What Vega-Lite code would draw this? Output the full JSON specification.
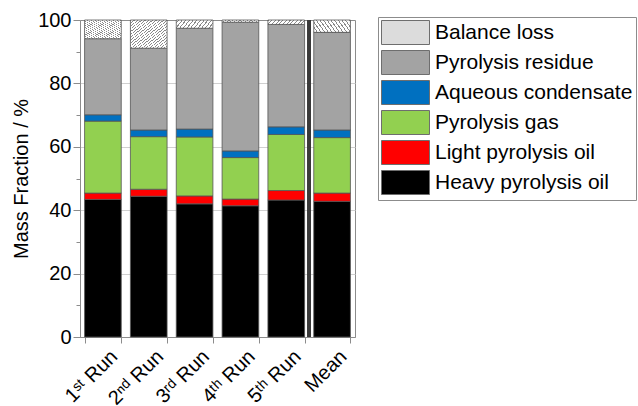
{
  "$schema": "https://vega.github.io/schema/vega-lite/v6.json",
  "autosize": "none",
  "width": 275,
  "height": 317,
  "padding": {"left": 80, "top": 20, "right": 283, "bottom": 69},
  "config": {
    "font": "Liberation Sans",
    "view": {"stroke": "#8c8c8c", "strokeWidth": 1},
    "axis": {"labelFont": "Liberation Sans", "titleFont": "Liberation Sans", "labelColor": "#000", "titleColor": "#000", "domainColor": "#8c8c8c", "tickColor": "#8c8c8c"}
  },
  "data": {
    "values": [
      {"run": "1ˢᵗ Run", "component": "Heavy pyrolysis oil", "k": 1, "value": 43.4},
      {"run": "1ˢᵗ Run", "component": "Light pyrolysis oil", "k": 2, "value": 2.0},
      {"run": "1ˢᵗ Run", "component": "Pyrolysis gas", "k": 3, "value": 22.7},
      {"run": "1ˢᵗ Run", "component": "Aqueous condensate", "k": 4, "value": 2.0},
      {"run": "1ˢᵗ Run", "component": "Pyrolysis residue", "k": 5, "value": 24.0},
      {"run": "1ˢᵗ Run", "component": "Balance loss", "k": 6, "value": 5.9},
      {"run": "2ⁿᵈ Run", "component": "Heavy pyrolysis oil", "k": 1, "value": 44.4},
      {"run": "2ⁿᵈ Run", "component": "Light pyrolysis oil", "k": 2, "value": 2.2},
      {"run": "2ⁿᵈ Run", "component": "Pyrolysis gas", "k": 3, "value": 16.6},
      {"run": "2ⁿᵈ Run", "component": "Aqueous condensate", "k": 4, "value": 2.1},
      {"run": "2ⁿᵈ Run", "component": "Pyrolysis residue", "k": 5, "value": 25.8},
      {"run": "2ⁿᵈ Run", "component": "Balance loss", "k": 6, "value": 8.9},
      {"run": "3ʳᵈ Run", "component": "Heavy pyrolysis oil", "k": 1, "value": 42.0},
      {"run": "3ʳᵈ Run", "component": "Light pyrolysis oil", "k": 2, "value": 2.5},
      {"run": "3ʳᵈ Run", "component": "Pyrolysis gas", "k": 3, "value": 18.6},
      {"run": "3ʳᵈ Run", "component": "Aqueous condensate", "k": 4, "value": 2.5},
      {"run": "3ʳᵈ Run", "component": "Pyrolysis residue", "k": 5, "value": 31.8},
      {"run": "3ʳᵈ Run", "component": "Balance loss", "k": 6, "value": 2.6},
      {"run": "4ᵗʰ Run", "component": "Heavy pyrolysis oil", "k": 1, "value": 41.4},
      {"run": "4ᵗʰ Run", "component": "Light pyrolysis oil", "k": 2, "value": 2.1},
      {"run": "4ᵗʰ Run", "component": "Pyrolysis gas", "k": 3, "value": 13.1},
      {"run": "4ᵗʰ Run", "component": "Aqueous condensate", "k": 4, "value": 2.1},
      {"run": "4ᵗʰ Run", "component": "Pyrolysis residue", "k": 5, "value": 40.6},
      {"run": "4ᵗʰ Run", "component": "Balance loss", "k": 6, "value": 0.7},
      {"run": "5ᵗʰ Run", "component": "Heavy pyrolysis oil", "k": 1, "value": 43.2},
      {"run": "5ᵗʰ Run", "component": "Light pyrolysis oil", "k": 2, "value": 3.0},
      {"run": "5ᵗʰ Run", "component": "Pyrolysis gas", "k": 3, "value": 17.7},
      {"run": "5ᵗʰ Run", "component": "Aqueous condensate", "k": 4, "value": 2.4},
      {"run": "5ᵗʰ Run", "component": "Pyrolysis residue", "k": 5, "value": 32.3},
      {"run": "5ᵗʰ Run", "component": "Balance loss", "k": 6, "value": 1.4},
      {"run": "Mean", "component": "Heavy pyrolysis oil", "k": 1, "value": 42.8},
      {"run": "Mean", "component": "Light pyrolysis oil", "k": 2, "value": 2.6},
      {"run": "Mean", "component": "Pyrolysis gas", "k": 3, "value": 17.5},
      {"run": "Mean", "component": "Aqueous condensate", "k": 4, "value": 2.4},
      {"run": "Mean", "component": "Pyrolysis residue", "k": 5, "value": 30.8},
      {"run": "Mean", "component": "Balance loss", "k": 6, "value": 3.9}
    ]
  },
  "encoding": {
    "x": {
      "field": "run", "type": "nominal", "sort": null,
      "scale": {"paddingInner": 0.2, "paddingOuter": 0.1},
      "axis": {"title": null, "labelAngle": -45, "labelFontSize": 20, "tickBand": "extent", "tickSize": 6, "labelPadding": 3, "labelOffset": 4, "domainColor": "#8c8c8c"}
    }
  },
  "layer": [
    {
      "mark": {"type": "bar", "stroke": "#555555", "strokeWidth": 0.8},
      "encoding": {
        "y": {
          "field": "value", "type": "quantitative", "stack": "zero",
          "scale": {"domain": [0, 100], "nice": false},
          "axis": {
            "title": "Mass Fraction / %", "titleFontSize": 20, "titleFontWeight": "normal", "titlePadding": 6,
            "labelFontSize": 20, "labelPadding": 2,
            "values": [0, 10, 20, 30, 40, 50, 60, 70, 80, 90, 100],
            "labelExpr": "datum.value % 20 === 0 ? datum.label : ''",
            "tickSize": {"condition": {"test": "datum.value % 20 === 0", "value": 7}, "value": 4},
            "grid": true, "gridColor": "#d0d0d0",
            "gridOpacity": {"condition": {"test": "datum.value % 20 === 0 && datum.value > 0 && datum.value < 100", "value": 1}, "value": 0}
          }
        },
        "order": {"field": "k", "type": "quantitative", "sort": "ascending"},
        "fill": {
          "condition": {
            "test": "datum.component === 'Balance loss'",
            "value": {
              "gradient": "linear", "x1": 0, "y1": 0, "x2": 1, "y2": 1,
              "stops": [
                {"offset": 0, "color": "#8a8a8a"}, {"offset": 0.015, "color": "#8a8a8a"}, {"offset": 0.015, "color": "#ffffff"}, {"offset": 0.05, "color": "#ffffff"},
                {"offset": 0.05, "color": "#8a8a8a"}, {"offset": 0.065, "color": "#8a8a8a"}, {"offset": 0.065, "color": "#ffffff"}, {"offset": 0.1, "color": "#ffffff"},
                {"offset": 0.1, "color": "#8a8a8a"}, {"offset": 0.115, "color": "#8a8a8a"}, {"offset": 0.115, "color": "#ffffff"}, {"offset": 0.15, "color": "#ffffff"},
                {"offset": 0.15, "color": "#8a8a8a"}, {"offset": 0.165, "color": "#8a8a8a"}, {"offset": 0.165, "color": "#ffffff"}, {"offset": 0.2, "color": "#ffffff"},
                {"offset": 0.2, "color": "#8a8a8a"}, {"offset": 0.215, "color": "#8a8a8a"}, {"offset": 0.215, "color": "#ffffff"}, {"offset": 0.25, "color": "#ffffff"},
                {"offset": 0.25, "color": "#8a8a8a"}, {"offset": 0.265, "color": "#8a8a8a"}, {"offset": 0.265, "color": "#ffffff"}, {"offset": 0.3, "color": "#ffffff"},
                {"offset": 0.3, "color": "#8a8a8a"}, {"offset": 0.315, "color": "#8a8a8a"}, {"offset": 0.315, "color": "#ffffff"}, {"offset": 0.35, "color": "#ffffff"},
                {"offset": 0.35, "color": "#8a8a8a"}, {"offset": 0.365, "color": "#8a8a8a"}, {"offset": 0.365, "color": "#ffffff"}, {"offset": 0.4, "color": "#ffffff"},
                {"offset": 0.4, "color": "#8a8a8a"}, {"offset": 0.415, "color": "#8a8a8a"}, {"offset": 0.415, "color": "#ffffff"}, {"offset": 0.45, "color": "#ffffff"},
                {"offset": 0.45, "color": "#8a8a8a"}, {"offset": 0.465, "color": "#8a8a8a"}, {"offset": 0.465, "color": "#ffffff"}, {"offset": 0.5, "color": "#ffffff"},
                {"offset": 0.5, "color": "#8a8a8a"}, {"offset": 0.515, "color": "#8a8a8a"}, {"offset": 0.515, "color": "#ffffff"}, {"offset": 0.55, "color": "#ffffff"},
                {"offset": 0.55, "color": "#8a8a8a"}, {"offset": 0.565, "color": "#8a8a8a"}, {"offset": 0.565, "color": "#ffffff"}, {"offset": 0.6, "color": "#ffffff"},
                {"offset": 0.6, "color": "#8a8a8a"}, {"offset": 0.615, "color": "#8a8a8a"}, {"offset": 0.615, "color": "#ffffff"}, {"offset": 0.65, "color": "#ffffff"},
                {"offset": 0.65, "color": "#8a8a8a"}, {"offset": 0.665, "color": "#8a8a8a"}, {"offset": 0.665, "color": "#ffffff"}, {"offset": 0.7, "color": "#ffffff"},
                {"offset": 0.7, "color": "#8a8a8a"}, {"offset": 0.715, "color": "#8a8a8a"}, {"offset": 0.715, "color": "#ffffff"}, {"offset": 0.75, "color": "#ffffff"},
                {"offset": 0.75, "color": "#8a8a8a"}, {"offset": 0.765, "color": "#8a8a8a"}, {"offset": 0.765, "color": "#ffffff"}, {"offset": 0.8, "color": "#ffffff"},
                {"offset": 0.8, "color": "#8a8a8a"}, {"offset": 0.815, "color": "#8a8a8a"}, {"offset": 0.815, "color": "#ffffff"}, {"offset": 0.85, "color": "#ffffff"},
                {"offset": 0.85, "color": "#8a8a8a"}, {"offset": 0.865, "color": "#8a8a8a"}, {"offset": 0.865, "color": "#ffffff"}, {"offset": 0.9, "color": "#ffffff"},
                {"offset": 0.9, "color": "#8a8a8a"}, {"offset": 0.915, "color": "#8a8a8a"}, {"offset": 0.915, "color": "#ffffff"}, {"offset": 0.95, "color": "#ffffff"},
                {"offset": 0.95, "color": "#8a8a8a"}, {"offset": 0.965, "color": "#8a8a8a"}, {"offset": 0.965, "color": "#ffffff"}, {"offset": 1, "color": "#ffffff"}
              ]
            }
          },
          "field": "component", "type": "nominal",
          "scale": {
            "domain": ["Balance loss", "Pyrolysis residue", "Aqueous condensate", "Pyrolysis gas", "Light pyrolysis oil", "Heavy pyrolysis oil"],
            "range": ["#dcdcdc", "#a3a3a3", "#0070c0", "#92d050", "#ff0000", "#000000"]
          },
          "legend": {
            "title": null, "orient": "none", "legendX": 298, "legendY": -3,
            "padding": 3, "strokeColor": "#8c8c8c", "fillColor": "#ffffff",
            "symbolType": "M-1,-1H3V1H-1Z", "symbolSize": 576,
            "symbolStrokeColor": "#6e6e6e", "symbolStrokeWidth": 1, "symbolOpacity": 1,
            "labelFontSize": 21, "labelFont": "Liberation Sans", "labelColor": "#000", "labelOffset": 29,
            "rowPadding": 1, "labelLimit": 300
          }
        }
      }
    },
    {
      "mark": {"type": "rule", "color": "#3a3a3a", "strokeWidth": 2.5},
      "encoding": {"x": {"datum": "5ᵗʰ Run", "bandPosition": 1.125}}
    }
  ]
}
